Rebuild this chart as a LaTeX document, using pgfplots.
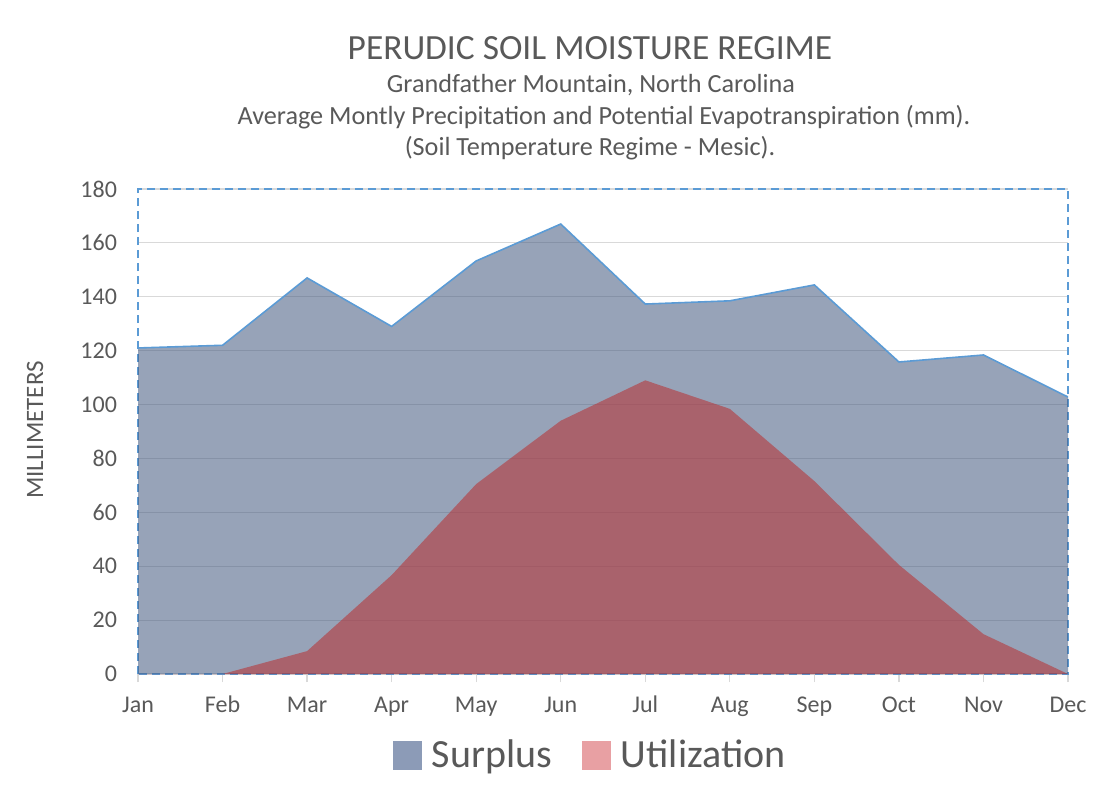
\documentclass[border=0pt]{standalone}
\usepackage{fontspec}
\setmainfont{Carlito}
\usepackage{pgfplots}
\pgfplotsset{compat=1.18}
\definecolor{txt}{HTML}{595959}
\definecolor{gridc}{HTML}{D9D9D9}
\definecolor{bord}{HTML}{5B9BD5}
\definecolor{surfill}{RGB}{66,88,126}
\definecolor{utilfill}{RGB}{181,55,59}
\definecolor{surleg}{RGB}{140,155,183}
\definecolor{utilleg}{RGB}{232,160,163}
\begin{document}
\begin{tikzpicture}
\path[use as bounding box] (0pt,0pt) rectangle (554pt,400pt);
\node[txt, font=\fontsize{17.7}{20}\selectfont] at (295pt,376pt) {PERUDIC SOIL MOISTURE REGIME};
\node[txt, font=\fontsize{13.1}{14}\selectfont] at (295.5pt,357.5pt) {Grandfather Mountain, North Carolina};
\node[txt, font=\fontsize{13.1}{14}\selectfont] at (302pt,341.5pt) {Average Montly Precipitation and Potential Evapotranspiration (mm).};
\node[txt, font=\fontsize{13.1}{14}\selectfont] at (295pt,326pt) {(Soil Temperature Regime - Mesic).};
\node[txt, rotate=90, font=\fontsize{12.5}{14}\selectfont] at (17.5pt,185pt) {MILLIMETERS};
\begin{axis}[
  at={(69pt,63pt)}, anchor=south west,
  scale only axis, width=465pt, height=242.5pt,
  xmin=0, xmax=11, ymin=0, ymax=180,
  xtick={0,...,11},
  xticklabels={Jan,Feb,Mar,Apr,May,Jun,Jul,Aug,Sep,Oct,Nov,Dec},
  ytick={0,20,...,180},
  ymajorgrids, grid style={gridc, line width=0.6pt},
  axis line style={bord, line width=0.9pt, dash pattern=on 4pt off 2.5pt},
  tick label style={txt, font=\fontsize{12}{14}\selectfont},
  /pgf/number format/assume math mode=true,
  xtick style={draw=gridc, line width=0.6pt},
  ytick style={draw=none},
  tick align=outside, major tick length=4pt,
  xtick pos=bottom, ytick pos=left,
  xticklabel style={text height=8.5pt, text depth=2.5pt, yshift=-3pt},
  yticklabel style={xshift=-3pt},
  legend style={at={(0.4875,-0.167)}, anchor=center, draw=none, fill=none,
    legend columns=2, font=\fontsize{20}{24}\selectfont, text=txt,
    /tikz/every odd column/.append style={column sep=3pt},
    /tikz/every even column/.append style={column sep=13pt}},
  legend cell align=left,
]
\addplot[draw=none, fill=surfill, fill opacity=0.55, forget plot] coordinates {
(0,121) (1,122) (2,147) (3,129) (4,153.3) (5,167) (6,137.3) (7,138.5) (8,144.4) (9,115.8) (10,118.4) (11,102.8)
} \closedcycle;
\addplot[draw=bord, line width=0.8pt, forget plot] coordinates {
(0,121) (1,122) (2,147) (3,129) (4,153.3) (5,167) (6,137.3) (7,138.5) (8,144.4) (9,115.8) (10,118.4) (11,102.8)
};
\addplot[draw=none, fill=utilfill, fill opacity=0.6, forget plot] coordinates {
(0,0) (1,0) (2,8.5) (3,36.7) (4,70.5) (5,94) (6,109) (7,98.4) (8,71.6) (9,40.5) (10,14.8) (11,0)
} \closedcycle;
\addlegendimage{legend image code/.code={\fill[surleg] (0pt,-7pt) rectangle (14pt,7pt);}}
\addlegendentry{Surplus}
\addlegendimage{legend image code/.code={\fill[utilleg] (0pt,-7pt) rectangle (14pt,7pt);}}
\addlegendentry{Utilization}
\end{axis}
\end{tikzpicture}
\end{document}
